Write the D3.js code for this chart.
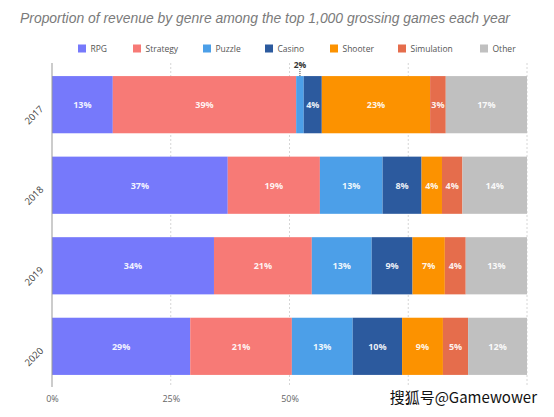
<!DOCTYPE html>
<html><head><meta charset="utf-8">
<script src="https://cdn.jsdelivr.net/npm/d3@7"></script>
<style>body{margin:0;background:#fff}svg{display:block}</style>
</head><body>
<script>
const years = ["2017","2018","2019","2020"];
const genres = ["RPG","Strategy","Puzzle","Casino","Shooter","Simulation","Other"];
const rpg        = [12.8, 37.0, 34.1, 29.1];
const strategy   = [38.6, 19.4, 20.6, 21.4];
const puzzle     = [1.6, 13.2, 12.6, 12.8];
const casino     = [3.8, 8.2, 8.6, 10.4];
const shooter    = [22.8, 4.3, 6.8, 8.6];
const simulation = [3.3, 4.3, 4.4, 5.3];
const other      = [17.1, 13.6, 12.9, 12.4];
const gridTicks = [25, 50, 75, 100];
const xTickLabels = [0, 25, 50];   // 75% and 100% are hidden under the watermark in the reference
const colors = ["#7679fb","#f77a76","#4c9fe8","#2c5a9e","#fc9200","#e56d4c","#c0c0c0"];

const series = [rpg, strategy, puzzle, casino, shooter, simulation, other];
const rows = years.map((y,i)=>{const o={year:y}; genres.forEach((g,j)=>o[g]=series[j][i]); return o;});
const stack = d3.stack().keys(genres)(rows);

const W=554,H=417;
const svg=d3.select("body").append("svg").attr("width",W).attr("height",H);
const x=d3.scaleLinear().domain([0,100]).range([52,527]);
const y=d3.scaleBand().domain(years).range([64,387]).paddingInner(0.29).paddingOuter(0.15);

svg.append("text").attr("x",20).attr("y",23).attr("font-family","Liberation Sans, Arial, sans-serif")
  .attr("font-style","italic").attr("font-size",15).attr("fill","#7a7a7a")
  .attr("textLength",490).attr("lengthAdjust","spacingAndGlyphs")
  .text("Proportion of revenue by genre among the top 1,000 grossing games each year");

// legend
const legX=[78,133,203,265,330,398,480];
const leg=svg.append("g");
genres.forEach((g,i)=>{
  leg.append("rect").attr("x",legX[i]).attr("y",44.5).attr("width",8).attr("height",8).attr("fill",colors[i]);
  leg.append("text").attr("x",legX[i]+12.5).attr("y",52).attr("font-family","Open Sans, sans-serif")
    .attr("font-size",8.5).attr("fill","#555").text(g);
});

// grid
svg.append("g").selectAll("line").data(gridTicks).join("line")
  .attr("x1",d=>x(d)).attr("x2",d=>x(d)).attr("y1",63).attr("y2",387)
  .attr("stroke","#d6d6d6").attr("stroke-width",1).attr("stroke-dasharray","2,2");

// bars
const g=svg.append("g");
stack.forEach((s,j)=>{
  g.selectAll(null).data(s).join("rect")
    .attr("x",d=>x(d[0])).attr("y",d=>y(d.data.year))
    .attr("width",d=>x(d[1])-x(d[0])).attr("height",y.bandwidth())
    .attr("fill",colors[j]);
  g.selectAll(null).data(s.filter(d=>d[1]-d[0]>=2.5)).join("text")
    .attr("x",d=>(x(d[0])+x(d[1]))/2).attr("y",d=>y(d.data.year)+y.bandwidth()/2+3.5)
    .attr("text-anchor","middle").attr("font-family","Open Sans, sans-serif").attr("font-weight","bold")
    .attr("font-size",9).attr("fill","#fff").attr("fill-opacity",0.92)
    .text(d=>Math.round(d[1]-d[0])+"%");
});
// small label annotation
stack.forEach((s,j)=>{
  s.filter(d=>d[1]-d[0]<2.5).forEach(d=>{
    const cx=(x(d[0])+x(d[1]))/2, top=y(d.data.year);
    svg.append("line").attr("x1",cx).attr("x2",cx).attr("y1",top-7).attr("y2",top)
      .attr("stroke","#333").attr("stroke-dasharray","1,1");
    svg.append("text").attr("x",cx).attr("y",top-8.5).attr("text-anchor","middle")
      .attr("font-family","Open Sans, sans-serif").attr("font-weight","bold").attr("font-size",8.5)
      .attr("fill","#333").text(Math.round(d[1]-d[0])+"%");
  });
});

// y axis line
svg.append("line").attr("x1",52).attr("x2",52).attr("y1",63).attr("y2",387).attr("stroke","#999");
// y labels
svg.append("g").selectAll("text").data(years).join("text")
  .attr("transform",d=>`translate(44,${y(d)+y.bandwidth()/2+5}) rotate(-45)`)
  .attr("text-anchor","end").attr("font-family","Open Sans, sans-serif").attr("font-size",9.5)
  .attr("fill","#444").text(d=>d);

// x axis labels
const xa=svg.append("g").attr("transform","translate(0,393)")
  .call(d3.axisBottom(x).tickValues(xTickLabels).tickFormat(d=>d+"%").tickSize(0));
xa.select(".domain").remove();
xa.selectAll("text").attr("font-family","Open Sans, sans-serif").attr("font-size",9).attr("fill","#666");

// watermark
svg.append("text").attr("x",537).attr("y",403).attr("text-anchor","end")
  .attr("font-family","Noto Sans CJK SC, sans-serif").attr("font-size",15)
  .attr("fill","#111").attr("stroke","#fff").attr("stroke-width",2.5).attr("paint-order","stroke")
  .text("搜狐号@Gamewower");
</script>
</body></html>
